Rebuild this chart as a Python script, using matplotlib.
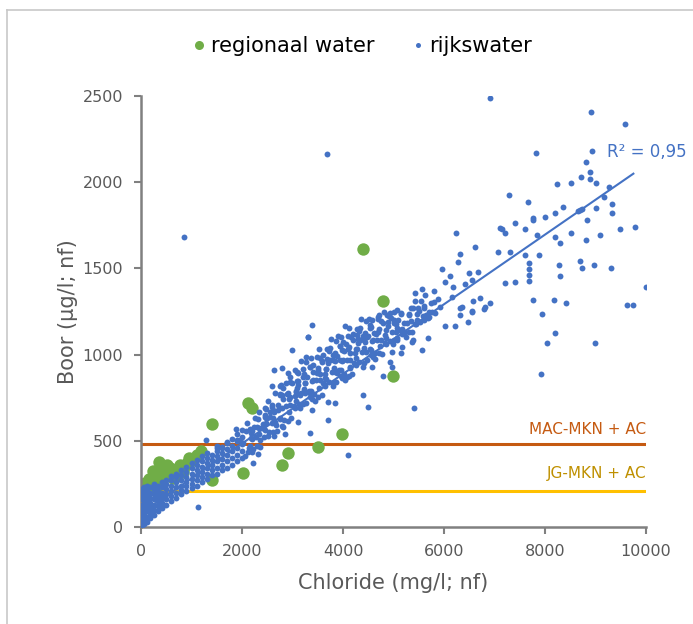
import matplotlib
matplotlib.use("Agg")
import matplotlib.pyplot as plt
from matplotlib.lines import Line2D

plt.rcParams['font.family'] = ['DejaVu Sans']

# regionaal water (green, large markers)
reg_cl = [10, 14, 14, 46, 79, 145, 100, 244, 277, 150, 363, 442, 400, 574, 500, 642, 700, 772,
          838, 905, 1035, 1188, 1400, 1410, 2026, 2110, 2190, 2800, 2917, 3511, 3974, 4403, 4800, 4996,
          30, 60, 200, 300, 330, 520, 550, 680, 750, 850, 950, 1100]
reg_b = [40, 99, 157, 205, 253, 234, 200, 327, 273, 280, 379, 307, 345, 340, 300, 282, 330, 360,
         321, 369, 389, 440, 600, 270, 313, 720, 690, 360, 431, 466, 539, 1612, 1310, 876,
         120, 240, 260, 230, 300, 360, 320, 300, 320, 350, 400, 420]

# rijkswater, dense cluster near the origin
blob_cl = [20, 20, 20, 20, 20, 20, 20, 20,
           60, 60, 60, 60, 60, 60, 60, 60,
           120, 120, 120, 120, 120, 120, 120, 120,
           180, 180, 180, 180, 180, 180, 180,
           250, 250, 250, 250, 250, 250, 250,
           330, 330, 330, 330, 330, 330,
           420, 420, 420, 420, 420, 420,
           500, 500, 500, 500, 500, 500,
           600, 600, 600, 600, 600, 600,
           700, 700, 700, 700, 700, 700,
           800, 800, 800, 800, 800, 800,
           900, 900, 900, 900, 900, 900,
           1000, 1000, 1000, 1000, 1000, 1000,
           1100, 1100, 1100, 1100, 1100, 1100,
           1200, 1200, 1200, 1200, 1200, 1200,
           1300, 1300, 1300, 1300, 1300, 1300,
           1400, 1400, 1400, 1400, 1400,
           1500, 1500, 1500, 1500, 1500, 1500,
           1600, 1600, 1600, 1600, 1600,
           1700, 1700, 1700, 1700, 1700,
           1800, 1800, 1800, 1800, 1800,
           1900, 1900, 1900, 1900, 1900,
           2000, 2000, 2000, 2000, 2000]
blob_b = [10, 40, 70, 100, 130, 160, 190, 220,
          20, 50, 80, 110, 140, 170, 200, 230,
          30, 60, 90, 120, 150, 180, 210, 240,
          50, 80, 110, 140, 170, 200, 230,
          70, 100, 130, 160, 190, 220, 250,
          90, 120, 150, 180, 210, 240,
          110, 140, 170, 200, 230, 260,
          130, 160, 190, 220, 250, 275,
          150, 180, 210, 240, 270, 295,
          170, 200, 230, 260, 290, 310,
          190, 215, 240, 270, 300, 330,
          210, 235, 260, 290, 320, 350,
          225, 250, 280, 310, 340, 370,
          240, 270, 300, 330, 360, 390,
          260, 290, 320, 350, 380, 410,
          280, 310, 340, 370, 400, 430,
          300, 330, 360, 390, 420,
          310, 345, 380, 410, 440, 470,
          330, 360, 395, 430, 460,
          345, 380, 415, 450, 490,
          360, 400, 440, 470, 510,
          380, 420, 460, 500, 540,
          400, 440, 480, 520, 560]

# rijkswater, main band 2000-6000 mg/l
band_cl = [2060, 2140, 2110, 2170, 2085,
           2215, 2285, 2240, 2310, 2265, 2195,
           2365, 2440, 2410, 2475, 2390, 2455,
           2530, 2600, 2560, 2520, 2640, 2585,
           2690, 2745, 2670, 2720, 2790, 2705, 2760,
           2830, 2880, 2905, 2815, 2865, 2940,
           2975, 3020, 3060, 2995, 3040, 3085, 2955,
           3130, 3175, 3110, 3200, 3145, 3225, 3160,
           3275, 3320, 3355, 3290, 3340, 3385, 3265,
           3420, 3470, 3505, 3445, 3490, 3535, 3415,
           3575, 3625, 3660, 3590, 3645, 3685, 3610,
           3725, 3780, 3810, 3740, 3795, 3835, 3760,
           3870, 3925, 3955, 3885, 3940, 3980, 3905,
           4025, 4075, 4110, 4040, 4090, 4130, 4060,
           4175, 4225, 4255, 4190, 4240, 4280, 4205,
           4325, 4375, 4410, 4340, 4390, 4430, 4355,
           4475, 4525, 4555, 4490, 4540, 4580, 4510,
           4625, 4675, 4710, 4640, 4690, 4660,
           4775, 4825, 4860, 4790, 4840, 4805,
           4925, 4975, 5010, 4940, 4990, 4960,
           5075, 5125, 5160, 5090, 5140,
           5225, 5275, 5310, 5245,
           5375, 5425, 5460, 5395,
           5525, 5575, 5610, 5545,
           5680, 5735, 5710,
           5830, 5880]
band_b = [410, 460, 435, 515, 555,
          455, 520, 580, 425, 630, 555,
          465, 520, 595, 635, 575, 690,
          550, 605, 665, 730, 530, 705,
          555, 625, 590, 705, 765, 680, 820,
          620, 700, 775, 580, 835, 740,
          635, 700, 785, 835, 760, 900, 870,
          715, 775, 845, 915, 690, 885, 965,
          720, 790, 755, 870, 930, 845, 985,
          770, 850, 925, 730, 985, 890, 940,
          765, 830, 915, 965, 890, 1030, 1000,
          840, 900, 970, 1040, 815, 1010, 1090,
          840, 910, 875, 990, 1050, 965, 1105,
          890, 970, 1045, 850, 1105, 1010, 1060,
          885, 950, 1035, 1085, 1010, 1150, 1120,
          955, 1015, 1085, 1155, 930, 1125, 1205,
          970, 1030, 1000, 1105, 1155, 1080, 1205,
          1010, 1085, 1150, 975, 1205, 1120,
          1005, 1065, 1140, 1185, 1115, 1245,
          1080, 1130, 1185, 1240, 1060, 1215,
          1095, 1145, 1120, 1200, 1240,
          1130, 1185, 1235, 1100,
          1130, 1175, 1235, 1270,
          1190, 1225, 1270, 1310,
          1215, 1300, 1245,
          1240, 1320]

# rijkswater, second pass over the band
band2_cl = [2160, 2195, 2150, 2205, 2180,
            2300, 2345, 2330, 2310, 2360, 2340,
            2460, 2490, 2505, 2450, 2485, 2470,
            2610, 2650, 2600, 2635, 2655, 2620,
            2760, 2800, 2750, 2790, 2810, 2770,
            2910, 2945, 2900, 2950, 2930, 2915,
            3060, 3100, 3050, 3090, 3115, 3070,
            3210, 3250, 3200, 3240, 3260, 3225,
            3360, 3400, 3350, 3390, 3410, 3370,
            3510, 3545, 3500, 3550, 3530, 3515,
            3660, 3700, 3650, 3690, 3715, 3670,
            3810, 3850, 3800, 3840, 3860, 3825,
            3960, 4000, 3950, 3990, 4010, 3970,
            4110, 4145, 4100, 4150, 4130, 4115,
            4260, 4300, 4250, 4290, 4315, 4270,
            4410, 4450, 4400, 4440, 4460, 4425,
            4560, 4600, 4550, 4590, 4610, 4570,
            4710, 4745, 4700, 4750, 4730, 4715,
            4860, 4900, 4850, 4890, 4915,
            5010, 5050, 5000, 5040, 5060,
            5160, 5200, 5150, 5190,
            5310, 5345, 5300, 5350,
            5460, 5500, 5450, 5490,
            5610, 5650, 5600,
            5760, 5800]
band2_b = [472, 512, 567, 437, 547,
           467, 537, 577, 627, 502, 667,
           562, 632, 527, 652, 687, 602,
           550, 610, 695, 665, 775, 635,
           633, 693, 773, 588, 743, 823,
           615, 710, 770, 840, 665, 895,
           733, 823, 693, 848, 893, 788,
           712, 777, 872, 837, 957, 802,
           790, 850, 930, 745, 900, 980,
           755, 850, 910, 980, 805, 1035,
           860, 950, 820, 975, 1020, 915,
           835, 900, 995, 960, 1080, 925,
           910, 970, 1050, 865, 1020, 1100,
           875, 970, 1030, 1100, 925, 1155,
           978, 1068, 938, 1093, 1138, 1033,
           950, 1015, 1110, 1075, 1195, 1040,
           1028, 1083, 1158, 988, 1128, 1203,
           1012, 1087, 1132, 1192, 1052, 1232,
           1098, 1168, 1063, 1188, 1223,
           1087, 1132, 1202, 1177, 1257,
           1150, 1185, 1235, 1125,
           1133, 1193, 1228, 1268,
           1200, 1255, 1175, 1270,
           1200, 1232, 1280,
           1250, 1305]

# rijkswater, scattered points read individually
spread_cl = [1135, 851, 3683, 1281, 1697, 1895, 2026, 1499, 1598, 2224, 1881, 2092, 2422, 2554, 2620,
             2983, 2634, 2786, 3380, 4040, 3313, 3299, 3050, 2588, 4535, 4699, 4865, 5010, 4271,
             4337, 4469, 4007, 3974, 3941, 3578, 3743, 3479, 3644, 3610, 3248, 3083, 3149, 2950,
             2818, 2752, 2455, 2290, 2851, 3347, 3115, 3709, 3842, 4403, 4501, 4106, 4964, 5063,
             5063, 4568, 4139, 4073, 3875, 3347, 3380, 3709, 1960,
             4799, 4931, 4964, 5142, 5162, 5374, 5571, 5677, 5412, 5392, 5709, 5426, 5558, 5624,
             5426, 5808, 6152, 6568, 6713, 6317, 6548, 6798, 6911, 6317, 6482, 6020, 6218, 5921,
             6350, 6812, 6548,
             5954, 6119, 6495, 6680, 6020, 6172, 6416, 6548, 7683, 7683, 7683, 7683, 7208, 7406,
             8277, 8297, 8693, 8739, 8970, 9301, 9994, 7770, 8178, 8410, 9617, 9749,
             7947, 8198, 8046, 8990, 7915,
             6232, 6614, 6317, 6271, 7076, 7307, 7604, 7887, 8198, 8297, 8508, 8806, 9089,
             8693, 8740, 8660, 8825, 9010, 9174, 9333, 9333, 9485, 9782,
             7142, 7208, 7604, 7406, 7770, 7770, 7835, 8000, 8198, 8350, 7657, 7287, 7109,
             9274, 9016, 8231, 8508, 8713, 8891, 8891, 8806, 8937, 7816, 9584, 8911, 6911]
spread_b = [114, 1682, 2164, 505, 495, 505, 485, 456, 466, 369, 567, 601, 582, 640, 679,
            1027, 911, 920, 1172, 1166, 1100, 1100, 911, 818, 1172, 1216, 1230, 1249, 1114,
            1085, 1104, 1075, 1027, 969, 959, 969, 891, 862, 834, 834, 805, 766, 756,
            805, 766, 640, 582, 539, 543, 611, 727, 717, 766, 698, 418, 1017, 1085,
            1153, 930, 930, 872, 891, 775, 679, 621, 505,
            876, 959, 930, 1008, 1046, 1075, 1027, 1098, 688, 1085, 1216, 1359, 1379, 1346,
            1311, 1371, 1336, 1311, 1327, 1272, 1255, 1265, 1297, 1230, 1187, 1166, 1164, 1278,
            1278, 1278, 1249,
            1497, 1458, 1471, 1481, 1419, 1390, 1409, 1433, 1531, 1496, 1461, 1426, 1413, 1419,
            1520, 1458, 1545, 1500, 1520, 1504, 1390, 1317, 1317, 1297, 1288, 1288,
            1234, 1127, 1066, 1066, 886,
            1704, 1626, 1584, 1539, 1597, 1597, 1578, 1578, 1680, 1645, 1704, 1665, 1694,
            1839, 1845, 1835, 1781, 1850, 1916, 1874, 1820, 1729, 1742,
            1729, 1704, 1727, 1762, 1792, 1781, 1694, 1800, 1820, 1854, 1887, 1926, 1732,
            1974, 1993, 1988, 1993, 2028, 2060, 2020, 2119, 2183, 2171, 2338, 2405, 2487]

# linear trend, R2 = 0.95
trend_slope = 0.202
trend_icpt = 80
trend_x = [0, 9750]

mac_level = 480
jg_level = 210

blue = '#4472C4'
green = '#70AD47'
grey = '#595959'

fig = plt.figure(figsize=(6.93, 6.24), dpi=100)
ax = fig.add_axes([141 / 693, 1 - 527 / 624, 505 / 693, 431 / 624])

ax.hlines(mac_level, 0, 10000, color='#C55A11', lw=2.2, zorder=1)
ax.hlines(jg_level, 0, 10000, color='#FFC000', lw=2.2, zorder=1)

rijk_cl = blob_cl + band_cl + band2_cl + spread_cl
rijk_b = blob_b + band_b + band2_b + spread_b
ax.scatter(reg_cl, reg_b, s=80, color=green, lw=0, zorder=2)
ax.scatter(rijk_cl, rijk_b, s=18, color=blue, lw=0, zorder=3)

ty = [trend_slope * x + trend_icpt for x in trend_x]
ax.plot(trend_x, ty, color=blue, lw=1.5, zorder=4)
ax.text(9230, 2175, 'R² = 0,95', color=blue, fontsize=12, ha='left', va='center')

ax.text(10000, 563, 'MAC-MKN + AC', color='#C55A11', fontsize=11, ha='right', va='center')
ax.text(10000, 313, 'JG-MKN + AC', color='#BF9000', fontsize=11, ha='right', va='center')

ax.set_xlim(0, 10000)
ax.set_ylim(0, 2500)
ax.set_xticks(range(0, 10001, 2000))
ax.set_yticks(range(0, 2501, 500))
for s in ['top', 'right']:
    ax.spines[s].set_visible(False)
for s in ['left', 'bottom']:
    ax.spines[s].set_color('#808080')
    ax.spines[s].set_linewidth(1.8)
ax.tick_params(direction='out', length=5, width=1.5, color='#808080',
               labelcolor=grey, labelsize=11.5)
ax.tick_params(axis='y', pad=8)
ax.tick_params(axis='x', pad=7)
ax.set_xlabel('Chloride (mg/l; nf)', color=grey, fontsize=15, labelpad=10)
ax.set_ylabel('Boor (µg/l; nf)', color=grey, fontsize=15, labelpad=3)

handles = [Line2D([], [], ls='none', marker='o', ms=6.5, mfc=green, mec='none'),
           Line2D([], [], ls='none', marker='o', ms=3.6, mfc=blue, mec='none')]
fig.legend(handles, ['regionaal water', 'rijkswater'], loc='center',
           bbox_to_anchor=(0.52, 0.926), ncol=2, frameon=False,
           fontsize=15, handletextpad=0.05, handlelength=1.0, columnspacing=1.6)

# chart border (left and top edges visible)
fig.add_artist(Line2D([7 / 693, 7 / 693], [0, 1 - 10 / 624], transform=fig.transFigure,
                      color='#c8c8c8', lw=1.2))
fig.add_artist(Line2D([7 / 693, 1], [1 - 10 / 624, 1 - 10 / 624], transform=fig.transFigure,
                      color='#c8c8c8', lw=1.2))

fig.savefig('out.png', dpi=100)
